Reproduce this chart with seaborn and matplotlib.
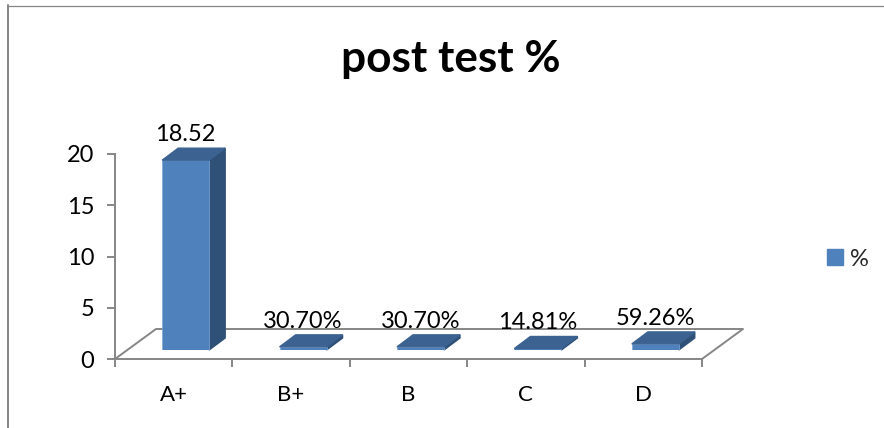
import pandas as pd
import matplotlib
matplotlib.use("Agg")
import matplotlib.pyplot as plt
import seaborn as sns
from matplotlib.patches import Polygon, Patch
from matplotlib.lines import Line2D

# Values
grades = ["A+", "B+", "B", "C", "D"]
post_test = [18.52, 0.307, 0.307, 0.1481, 0.5926]
bar_labels = ["18.52", "30.70%", "30.70%", "14.81%", "59.26%"]
y_ticks = [0, 5, 10, 15, 20]

FRONT = "#4F81BD"
SIDE = "#2F5177"
TOP = "#3B6291"
GRID = "#868686"

W, H = 884, 428

sns.set_theme(style="white")
plt.rcParams["font.family"] = ["Lato", "DejaVu Sans"]

data = pd.DataFrame({"grade": grades, "value": post_test})

fig = plt.figure(figsize=(W / 100, H / 100), dpi=100)

# Front plane of the fake 3D box, holds the axes
ax = fig.add_axes([115 / W, 1 - 359 / H, 587 / W, 205 / H])
ax.set_xlim(-0.5, 4.5)
ax.set_ylim(0, 20)
ax.patch.set_alpha(0)

for s in ["top", "right"]:
    ax.spines[s].set_visible(False)
for s in ["left", "bottom"]:
    ax.spines[s].set_color(GRID)
    ax.spines[s].set_linewidth(1.4)

ax.set_yticks(y_ticks)
ax.set_xticks([i - 0.5 for i in range(len(grades) + 1)])
ax.set_xticklabels([])
ax.set_xticks(range(len(grades)), labels=grades, minor=True)
ax.tick_params(axis="y", which="major", left=True, length=6, width=1.4, color=GRID, labelsize=17, pad=9, labelcolor="black")
ax.tick_params(axis="x", which="major", bottom=True, length=6, width=1.4, color=GRID)
ax.tick_params(axis="x", which="minor", bottom=False, length=0, labelsize=16, pad=18.8, labelcolor="black")

# Floor of the box
per_cat = 587 / 5
per_unit = 205 / 20
floor_dx = 41 / per_cat
floor_dy = 30 / per_unit
x0, x1 = ax.get_xlim()
floor_x = [x0, x0 + floor_dx, x1 + floor_dx, x1]
floor_y = [0, floor_dy, floor_dy, 0]
ax.add_line(Line2D(floor_x, floor_y, color=GRID, lw=1.4, clip_on=False, zorder=1))

# Bars sit inside the box, so they get their own axes shifted back
bars = fig.add_axes([127 / W, 1 - 350 / H, 587 / W, 205 / H], sharey=None)
bars.patch.set_alpha(0)
sns.barplot(data=data, x="grade", y="value", color=FRONT, saturation=1, width=0.4, ax=bars, zorder=3)
bars.set_xlim(-0.5, 4.5)
bars.set_ylim(0, 20)
bars.axis("off")

dx = 16 / per_cat
dy = 12 / per_unit
for p, label in zip(bars.patches, bar_labels):
    l, r = p.get_x(), p.get_x() + p.get_width()
    h = p.get_height()
    p.set_edgecolor("#7FA6D6")
    p.set_linewidth(0.5)
    bars.add_patch(Polygon([(r, 0), (r + dx, dy), (r + dx, h + dy), (r, h)], color=SIDE, clip_on=False, zorder=2))
    bars.add_patch(Polygon([(l, h), (l + dx, h + dy), (r + dx, h + dy), (r, h)], color=TOP, clip_on=False, zorder=4))
    bars.annotate(label, ((l + r) / 2, h + dy), xytext=(0, 2.2), textcoords="offset points",
                  ha="center", va="bottom", fontsize=17, color="black", annotation_clip=False, zorder=5)

fig.text(451 / W, 1 - 59 / H, "post test %", ha="center", va="center", fontsize=31.8, fontweight="bold", color="black")

fig.legend(handles=[Patch(color=FRONT, label="%")], loc="center left", bbox_to_anchor=(827 / W, 1 - 259 / H),
           frameon=False, fontsize=17, handlelength=0.68, handleheight=0.68, handletextpad=0.28, borderpad=0, borderaxespad=0)

# Outer frame, only top and left are visible in the picture
fig.add_artist(Line2D([8 / W, 8 / W], [0, 1 - 5 / H], color=GRID, lw=1.4))
fig.add_artist(Line2D([8 / W, 1], [1 - 5.5 / H, 1 - 5.5 / H], color=GRID, lw=0.9))

fig.savefig("out.png", dpi=100)
